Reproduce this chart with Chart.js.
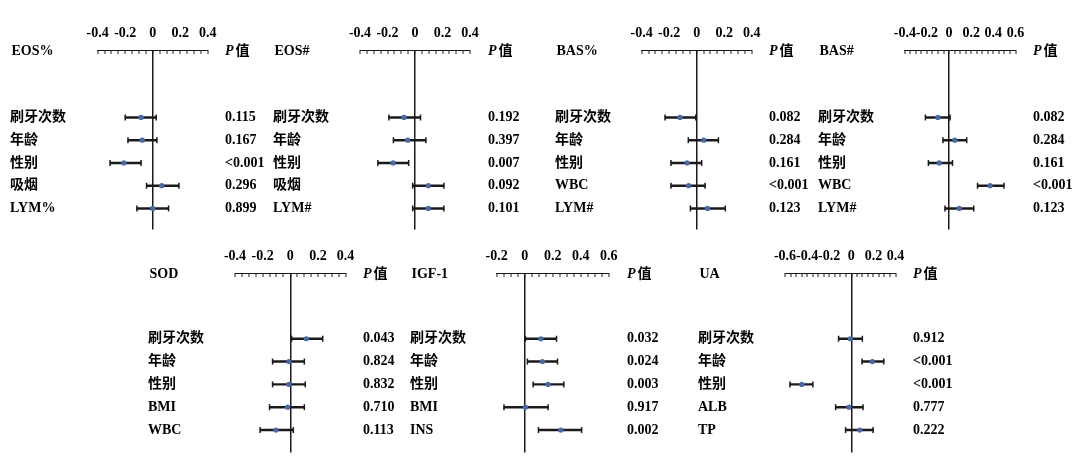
<!DOCTYPE html>
<html><head><meta charset="utf-8">
<script src="https://cdn.jsdelivr.net/npm/chart.js@4.4.0/dist/chart.umd.min.js"></script>
<style>
html,body{margin:0;padding:0;background:#fff;width:1078px;height:461px;overflow:hidden;position:relative}
canvas{position:absolute}
</style></head><body>
<script>
// ---------- DATA ----------
const P_HEADER = ['P', '值'];

const EOSP_title = 'EOS%';
const EOSP_rows = ['刷牙次数', '年龄', '性别', '吸烟', 'LYM%'];
const EOSP_est  = [-0.085, -0.076, -0.210, 0.065, 0.000];
const EOSP_lo   = [-0.200, -0.180, -0.310, -0.045, -0.115];
const EOSP_hi   = [0.025, 0.030, -0.085, 0.190, 0.115];
const EOSP_p    = ['0.115', '0.167', '<0.001', '0.296', '0.899'];
const EOSP_ticks = ['-0.4', '-0.2', '0', '0.2', '0.4'];

const EOSN_title = 'EOS#';
const EOSN_rows = ['刷牙次数', '年龄', '性别', '吸烟', 'LYM#'];
const EOSN_est  = [-0.080, -0.053, -0.160, 0.097, 0.097];
const EOSN_lo   = [-0.190, -0.157, -0.270, -0.017, -0.017];
const EOSN_hi   = [0.040, 0.079, -0.046, 0.210, 0.210];
const EOSN_p    = ['0.192', '0.397', '0.007', '0.092', '0.101'];
const EOSN_ticks = ['-0.4', '-0.2', '0', '0.2', '0.4'];

const BASP_title = 'BAS%';
const BASP_rows = ['刷牙次数', '年龄', '性别', 'WBC', 'LYM#'];
const BASP_est  = [-0.121, 0.051, -0.070, -0.058, 0.078];
const BASP_lo   = [-0.230, -0.061, -0.187, -0.187, -0.046];
const BASP_hi   = [-0.007, 0.158, 0.036, 0.061, 0.208];
const BASP_p    = ['0.082', '0.284', '0.161', '<0.001', '0.123'];
const BASP_ticks = ['-0.4', '-0.2', '0', '0.2', '0.4'];

const BASN_title = 'BAS#';
const BASN_rows = ['刷牙次数', '年龄', '性别', 'WBC', 'LYM#'];
const BASN_est  = [-0.101, 0.052, -0.089, 0.370, 0.092];
const BASN_lo   = [-0.214, -0.055, -0.187, 0.257, -0.037];
const BASN_hi   = [0.009, 0.159, 0.031, 0.496, 0.223];
const BASN_p    = ['0.082', '0.284', '0.161', '<0.001', '0.123'];
const BASN_ticks = ['-0.4', '-0.2', '0', '0.2', '0.4', '0.6'];

const SOD_title = 'SOD';
const SOD_rows = ['刷牙次数', '年龄', '性别', 'BMI', 'WBC'];
const SOD_est  = [0.116, -0.010, -0.010, -0.019, -0.104];
const SOD_lo   = [0.010, -0.128, -0.128, -0.150, -0.218];
const SOD_hi   = [0.235, 0.102, 0.109, 0.102, 0.022];
const SOD_p    = ['0.043', '0.824', '0.832', '0.710', '0.113'];
const SOD_ticks = ['-0.4', '-0.2', '0', '0.2', '0.4'];

const IGF_title = 'IGF-1';
const IGF_rows = ['刷牙次数', '年龄', '性别', 'BMI', 'INS'];
const IGF_est  = [0.115, 0.127, 0.167, 0.005, 0.258];
const IGF_lo   = [0.005, 0.019, 0.060, -0.148, 0.098];
const IGF_hi   = [0.227, 0.234, 0.279, 0.167, 0.406];
const IGF_p    = ['0.032', '0.024', '0.003', '0.917', '0.002'];
const IGF_ticks = ['-0.2', '0', '0.2', '0.4', '0.6'];

const UA_title = 'UA';
const UA_rows = ['刷牙次数', '年龄', '性别', 'ALB', 'TP'];
const UA_est  = [-0.009, 0.191, -0.448, -0.021, 0.076];
const UA_lo   = [-0.115, 0.097, -0.555, -0.142, -0.052];
const UA_hi   = [0.100, 0.294, -0.348, 0.106, 0.197];
const UA_p    = ['0.912', '<0.001', '<0.001', '0.777', '0.222'];
const UA_ticks = ['-0.6', '-0.4', '-0.2', '0', '0.2', '0.4'];

// ---------- LAYOUT ----------
const TOP_ROW = {top: 0, yMin: -2.965, yMax: 4.92};
const BOT_ROW = {top: 223, yMin: -2.88, yMax: 4.98};

const panels = [
  {title: EOSP_title, rows: EOSP_rows, est: EOSP_est, lo: EOSP_lo, hi: EOSP_hi, p: EOSP_p, ticks: EOSP_ticks, row: TOP_ROW, labelX: 10,  axisL: 97.7,  axisR: 207.3, pX: 224.5},
  {title: EOSN_title, rows: EOSN_rows, est: EOSN_est, lo: EOSN_lo, hi: EOSN_hi, p: EOSN_p, ticks: EOSN_ticks, row: TOP_ROW, labelX: 273, axisL: 360,   axisR: 470,   pX: 488},
  {title: BASP_title, rows: BASP_rows, est: BASP_est, lo: BASP_lo, hi: BASP_hi, p: BASP_p, ticks: BASP_ticks, row: TOP_ROW, labelX: 555, axisL: 641.7, axisR: 751.7, pX: 769},
  {title: BASN_title, rows: BASN_rows, est: BASN_est, lo: BASN_lo, hi: BASN_hi, p: BASN_p, ticks: BASN_ticks, row: TOP_ROW, labelX: 817.5, axisL: 904.3, axisR: 1015, pX: 1032.5},
  {title: SOD_title,  rows: SOD_rows,  est: SOD_est,  lo: SOD_lo,  hi: SOD_hi,  p: SOD_p,  ticks: SOD_ticks,  row: BOT_ROW, labelX: 148, axisL: 235,   axisR: 345,   pX: 362.5},
  {title: IGF_title,  rows: IGF_rows,  est: IGF_est,  lo: IGF_lo,  hi: IGF_hi,  p: IGF_p,  ticks: IGF_ticks,  row: BOT_ROW, labelX: 410, axisL: 496.7, axisR: 608.3, pX: 626.5},
  {title: UA_title,   rows: UA_rows,   est: UA_est,   lo: UA_lo,   hi: UA_hi,   p: UA_p,   ticks: UA_ticks,   row: BOT_ROW, labelX: 698, axisL: 785,   axisR: 895,   pX: 912.5}
];

const FONT = "'Liberation Serif','Noto Sans CJK SC','Times New Roman',serif";
const INK = '#1a1a1a';
const DOT = '#4a69a8';
const H = 232;

const headerPlugin = {
  id: 'header',
  afterDraw(chart, args, opts) {
    const ctx = chart.ctx, ca = chart.chartArea;
    const y = ca.top + 1.5;
    ctx.save();
    ctx.fillStyle = '#000';
    ctx.textBaseline = 'middle';
    ctx.textAlign = 'left';
    ctx.font = 'bold 14px ' + FONT;
    ctx.fillText(opts.title, chart.scales.y.left + 1.5, y);
    const px = chart.scales.y2.left + opts.pad;
    ctx.font = 'italic bold 14px ' + FONT;
    ctx.fillText(P_HEADER[0], px, y);
    const w = ctx.measureText(P_HEADER[0]).width;
    ctx.font = 'bold 14px ' + FONT;
    ctx.fillText(P_HEADER[1], px + w + 2, y);
    ctx.restore();
  }
};

const capsPlugin = {
  id: 'caps',
  afterDatasetsDraw(chart) {
    const meta = chart.getDatasetMeta(1);
    const ctx = chart.ctx;
    ctx.save();
    ctx.strokeStyle = INK;
    ctx.lineWidth = 1.5;
    meta.data.forEach(el => {
      const {x, base, y} = el.getProps(['x', 'base', 'y'], true);
      [x, base].forEach(px => {
        ctx.beginPath();
        ctx.moveTo(px, y - 3);
        ctx.lineTo(px, y + 3);
        ctx.stroke();
      });
    });
    ctx.restore();
  }
};

function near(a, b) { return Math.abs(a - b) < 1e-6; }

panels.forEach(p => {
  const c = document.createElement('canvas');
  const leftW = p.axisL - p.labelX;
  const pad = p.pX - p.axisR;
  const rightW = pad + 44;
  const W = Math.round(leftW + (p.axisR - p.axisL) + rightW);
  c.width = W; c.height = H;
  c.style.left = p.labelX + 'px';
  c.style.top = p.row.top + 'px';
  c.style.width = W + 'px';
  c.style.height = H + 'px';
  document.body.appendChild(c);

  const xMin = parseFloat(p.ticks[0]);
  const xMax = parseFloat(p.ticks[p.ticks.length - 1]);
  const yAxisCommon = {
    type: 'linear', reverse: true, min: p.row.yMin, max: p.row.yMax, offset: false,
    grid: {display: false, drawTicks: false, offset: false}, border: {display: false},
    afterBuildTicks: s => { s.ticks = p.rows.map((_, i) => ({value: i})); }
  };

  new Chart(c, {
    type: 'scatter',
    data: {
      datasets: [
        {type: 'scatter', data: p.est.map((v, i) => ({x: v, y: i})),
         pointRadius: 2.6, pointHoverRadius: 2.6, pointBackgroundColor: DOT, pointBorderColor: DOT, pointBorderWidth: 0, showLine: false},
        {type: 'bar', indexAxis: 'y', data: p.lo.map((v, i) => ({x: [v, p.hi[i]], y: i})),
         backgroundColor: INK, barThickness: 1.8, borderWidth: 0, borderSkipped: false}
      ]
    },
    options: {
      responsive: false, animation: false, devicePixelRatio: 1,
      layout: {padding: {left: 0, right: 0, top: 0, bottom: 2}},
      plugins: {legend: {display: false}, tooltip: {enabled: false}, header: {title: p.title, pad: pad}},
      scales: {
        x: {
          type: 'linear', position: 'top', min: xMin, max: xMax, offset: false,
          border: {display: true, color: INK, width: 1},
          grid: {
            display: true, drawOnChartArea: true, drawTicks: true, tickLength: -4, offset: false,
            tickColor: INK, tickWidth: 1,
            color: ctx => (ctx.tick && near(ctx.tick.value, 0)) ? INK : 'rgba(0,0,0,0)',
            lineWidth: ctx => (ctx.tick && near(ctx.tick.value, 0)) ? 1.5 : 0
          },
          ticks: {
            autoSkip: false, maxRotation: 0, minRotation: 0, padding: 12, color: '#000',
            font: {family: FONT, size: 14, weight: 'bold'},
            callback: v => { const t = p.ticks.find(s => near(parseFloat(s), v)); return t === undefined ? '' : t; }
          },
          afterBuildTicks: s => {
            const arr = [];
            for (let k = Math.round(xMin / 0.05); k <= Math.round(xMax / 0.05); k++) arr.push({value: k * 0.05});
            s.ticks = arr;
          },
          afterFit: s => { s.height = 50; s.paddingLeft = 0; s.paddingRight = 0; }
        },
        y: Object.assign({}, yAxisCommon, {
          position: 'left',
          ticks: {crossAlign: 'far', padding: 0, autoSkip: false, color: '#000',
                  font: {family: FONT, size: 14, weight: 'bold'},
                  callback: v => p.rows[v] === undefined ? '' : p.rows[v]},
          afterFit: s => { s.width = leftW; s.paddingTop = 0; s.paddingBottom = 0; }
        }),
        y2: Object.assign({}, yAxisCommon, {
          position: 'right',
          ticks: {crossAlign: 'near', padding: pad, autoSkip: false, color: '#000',
                  font: {family: FONT, size: 14, weight: 'bold'},
                  callback: v => p.p[v] === undefined ? '' : p.p[v]},
          afterFit: s => { s.width = rightW; s.paddingTop = 0; s.paddingBottom = 0; }
        })
      }
    },
    plugins: [headerPlugin, capsPlugin]
  });
});
</script>
</body></html>
